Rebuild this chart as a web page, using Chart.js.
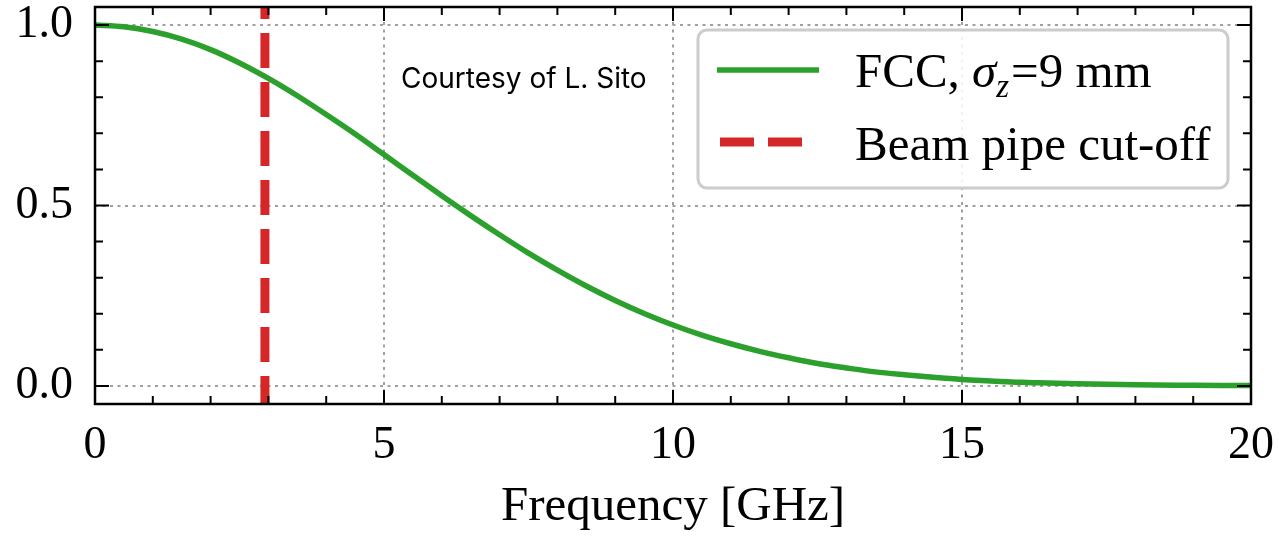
<!DOCTYPE html>
<html>
<head>
<meta charset="utf-8">
<script src="https://cdn.jsdelivr.net/npm/chart.js@4/dist/chart.umd.min.js"></script>
<style>
  html, body { margin: 0; padding: 0; background: #fff; }
  #wrap { width: 1279px; height: 538px; }
</style>
</head>
<body>
<div id="wrap"><canvas id="chart" width="1279" height="538"></canvas></div>
<script>
// Values
const freqGHz = [0, 0.5, 1, 1.5, 2, 2.5, 3, 3.5, 4, 4.5, 5, 5.5, 6, 6.5, 7, 7.5, 8, 8.5, 9, 9.5,
                 10, 10.5, 11, 11.5, 12, 12.5, 13, 13.5, 14, 14.5, 15, 15.5, 16, 16.5, 17, 18, 19, 20];
const spectrum = [1.00, 0.995, 0.982, 0.961, 0.932, 0.895, 0.852, 0.804, 0.752, 0.698, 0.641, 0.584, 0.527, 0.472, 0.419, 0.368, 0.321, 0.277, 0.237, 0.201,
                  0.169, 0.141, 0.117, 0.096, 0.078, 0.062, 0.050, 0.039, 0.031, 0.024, 0.018, 0.014, 0.010, 0.008, 0.006, 0.003, 0.002, 0.001];
const cutoffGHz = 2.94;
const yRange = [-0.05, 1.05];
const xTicks = [0, 5, 10, 15, 20];
const yTicks = [0.0, 0.5, 1.0];
const legendLabels = ['FCC, ', 'Beam pipe cut-off'];
const credit = 'Courtesy of L. Sito';

const GREEN = '#2ca02c';
const RED = '#d62728';
const SERIF = '"Liberation Serif", "DejaVu Serif", serif';

// frame + inward ticks on all four sides, like the matplotlib style
const framePlugin = {
    id: 'frame',
    afterDatasetsDraw(chart) {
        const { ctx, chartArea: a, scales } = chart;
        const x = scales.x, y = scales.y;
        ctx.save();
        ctx.strokeStyle = '#000';
        ctx.lineWidth = 2;
        ctx.beginPath();
        for (let v = 0; v <= 20; v += 1) {
            const px = x.getPixelForValue(v);
            const len = v % 5 === 0 ? 14 : 8;
            ctx.moveTo(px, a.bottom); ctx.lineTo(px, a.bottom - len);
            ctx.moveTo(px, a.top); ctx.lineTo(px, a.top + len);
        }
        for (let i = 0; i <= 10; i++) {
            const v = i / 10;
            const py = y.getPixelForValue(v);
            const len = i % 5 === 0 ? 14 : 8;
            ctx.moveTo(a.left, py); ctx.lineTo(a.left + len, py);
            ctx.moveTo(a.right, py); ctx.lineTo(a.right - len, py);
        }
        ctx.stroke();
        ctx.lineWidth = 2.5;
        ctx.strokeRect(a.left, a.top, a.right - a.left, a.bottom - a.top);
        ctx.restore();
    }
};

const legendPlugin = {
    id: 'boxLegend',
    afterDraw(chart) {
        const ctx = chart.ctx;
        const ds = chart.data.datasets;
        ctx.save();
        // box
        ctx.beginPath();
        ctx.roundRect(698, 30, 530, 158, 9);
        ctx.fillStyle = 'rgba(255,255,255,0.85)';
        ctx.fill();
        ctx.lineWidth = 3;
        ctx.strokeStyle = '#cccccc';
        ctx.stroke();

        // row 1
        ctx.strokeStyle = ds[0].borderColor;
        ctx.lineWidth = ds[0].borderWidth;
        ctx.beginPath(); ctx.moveTo(717, 70); ctx.lineTo(819, 70); ctx.stroke();
        ctx.fillStyle = '#000';
        ctx.textBaseline = 'alphabetic';
        ctx.font = '49px ' + SERIF;
        let tx = 855;
        ctx.fillText(legendLabels[0], tx, 87);
        tx += ctx.measureText(legendLabels[0]).width;
        ctx.font = 'italic 49px ' + SERIF;
        ctx.fillText('σ', tx, 87);
        tx += ctx.measureText('σ').width;
        ctx.font = 'italic 33px ' + SERIF;
        ctx.fillText('z', tx, 97);
        tx += ctx.measureText('z').width + 2;
        ctx.font = '49px ' + SERIF;
        ctx.fillText('=9 mm', tx, 87);

        // row 2
        ctx.strokeStyle = ds[1].borderColor;
        ctx.lineWidth = ds[1].borderWidth;
        ctx.setLineDash([34, 14]);
        ctx.beginPath(); ctx.moveTo(720, 142); ctx.lineTo(802, 142); ctx.stroke();
        ctx.setLineDash([]);
        ctx.font = '49px ' + SERIF;
        ctx.fillText(legendLabels[1], 855, 160);

        // credit note
        ctx.font = '28px Inter, Roboto, "Noto Sans", sans-serif';
        ctx.textBaseline = 'middle';
        ctx.fillText(credit, 401, 80);
        ctx.restore();
    }
};

new Chart(document.getElementById('chart'), {
    type: 'line',
    data: {
        datasets: [
            {
                label: 'FCC',
                data: freqGHz.map((f, i) => ({ x: f, y: spectrum[i] })),
                borderColor: GREEN,
                borderWidth: 5.5,
                pointRadius: 0,
                cubicInterpolationMode: 'monotone',
                fill: false
            },
            {
                label: 'Beam pipe cut-off',
                data: [{ x: cutoffGHz, y: yRange[1] }, { x: cutoffGHz, y: yRange[0] }],
                borderColor: RED,
                borderWidth: 9,
                borderDash: [35, 14],
                borderDashOffset: 23,
                borderCapStyle: 'butt',
                pointRadius: 0,
                fill: false
            }
        ]
    },
    options: {
        responsive: false,
        animation: false,
        devicePixelRatio: 1,
        layout: { padding: { top: 7, right: 28, left: 0, bottom: 0 } },
        plugins: { legend: { display: false }, tooltip: { enabled: false } },
        scales: {
            x: {
                type: 'linear',
                min: 0, max: 20,
                afterBuildTicks: s => { s.ticks = xTicks.map(v => ({ value: v })); },
                afterFit: s => { s.height = 134; s.paddingLeft = 0; s.paddingRight = 0; },
                grid: { color: '#a0a0a0', lineWidth: 2, drawTicks: false },
                border: { display: false, dash: [3, 4.5] },
                ticks: {
                    padding: 14,
                    color: '#000',
                    font: { family: SERIF, size: 46 },
                    maxRotation: 0,
                    callback: v => String(v)
                },
                title: {
                    display: true,
                    text: 'Frequency [GHz]',
                    color: '#000',
                    font: { family: SERIF, size: 49, lineHeight: 1.2 },
                    padding: { top: 0, bottom: 1 }
                }
            },
            y: {
                type: 'linear',
                min: yRange[0], max: yRange[1],
                afterBuildTicks: s => { s.ticks = yTicks.map(v => ({ value: v })); },
                afterFit: s => { s.width = 95; s.paddingTop = 0; s.paddingBottom = 0; },
                grid: { color: '#a0a0a0', lineWidth: 2, drawTicks: false },
                border: { display: false, dash: [3, 4.5] },
                ticks: {
                    padding: 22,
                    color: '#000',
                    font: { family: SERIF, size: 46 },
                    callback: v => v.toFixed(1)
                }
            }
        }
    },
    plugins: [framePlugin, legendPlugin]
});
</script>
</body>
</html>
